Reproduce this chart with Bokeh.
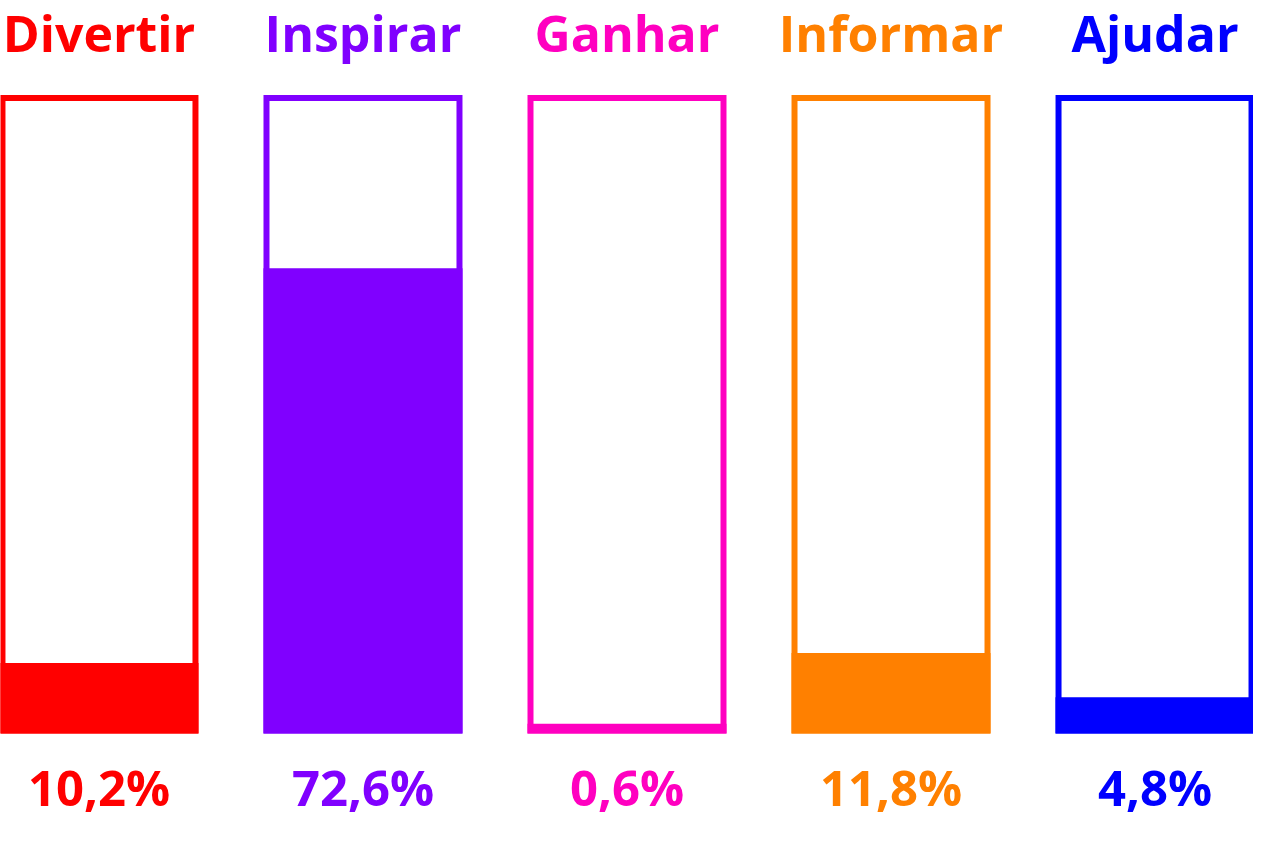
from bokeh.plotting import figure
from bokeh.models import ColumnDataSource, Range1d
from bokeh.embed import file_html
from bokeh.resources import INLINE
from bokeh.core.properties import value

categories = ["Divertir", "Inspirar", "Ganhar", "Informar", "Ajudar"]
values = [10.2, 72.6, 0.6, 11.8, 4.8]
labels = ["10,2%", "72,6%", "0,6%", "11,8%", "4,8%"]
colors = ["#FF0000", "#8000FF", "#FF00C0", "#FF8000", "#0000FF"]

W, H = 1253, 825
BOX_W = 0.731

x = list(range(len(categories)))
src = ColumnDataSource(dict(
    x=x,
    left=[i - BOX_W / 2 for i in x],
    right=[i + BOX_W / 2 for i in x],
    top=values,
    bottom=[0] * len(x),
    full=[100] * len(x),
    cat=categories,
    lab=labels,
    color=colors,
))

p = figure(width=W, height=H, output_backend="svg", toolbar_location=None,
           x_range=Range1d(-0.373, 4.373), y_range=Range1d(-15.0, 115.4),
           min_border=0)
p.axis.visible = False
p.grid.visible = False
p.outline_line_color = None
p.background_fill_color = "white"
p.border_fill_color = "white"

# filled part
p.quad(left="left", right="right", bottom="bottom", top="top", source=src,
       fill_color="color", line_color="color", line_width=6, line_join="miter")
# outline box
p.quad(left="left", right="right", bottom="bottom", top="full", source=src,
       fill_color=None, line_color="color", line_width=6, line_join="miter")

p.text(x="x", y="full", text="cat", source=src, text_color="color",
       text_align="center", text_baseline="alphabetic", y_offset=-65,
       text_font=value("Open Sans"), text_font_style="bold",
       text_font_size="50px")
p.text(x="x", y="bottom", text="lab", source=src, text_color="color",
       text_align="center", text_baseline="alphabetic", y_offset=56,
       text_font=value("Open Sans"), text_font_style="bold",
       text_font_size="49px")

open("out.html", "w").write(file_html(p, INLINE))
